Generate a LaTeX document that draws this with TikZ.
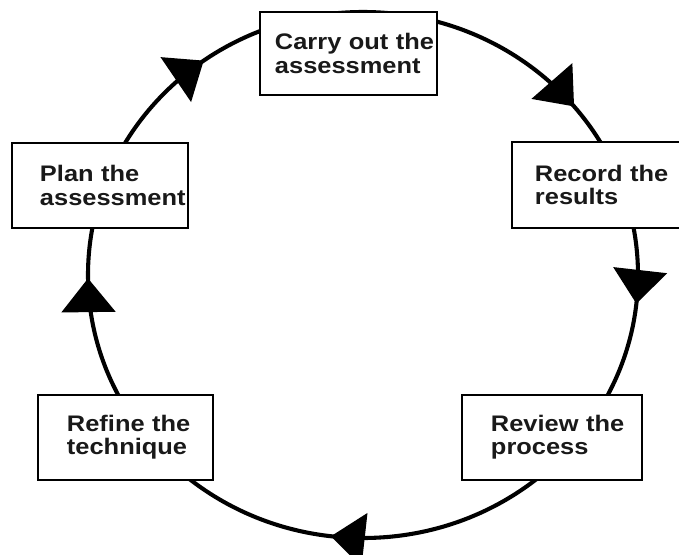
\documentclass[tikz,border=0pt]{standalone}
\usepackage{fontspec}
\newfontfamily\boxfont[FakeStretch=1.13]{Liberation Sans}
\usetikzlibrary{arrows.meta,decorations.markings}
\tikzset{cycletip/.tip={Triangle[length=24pt, width=38pt]}}

\begin{document}
\begin{tikzpicture}[x=0.025cm, y=-0.025cm,
    box/.style={draw, fill=white, line width=1.1pt, align=left, text=black!90,
        font=\boxfont\bfseries\fontsize{16}{16.6}\selectfont}]
                \useasboundingbox (0,0) rectangle (679,554);

                % The cycle
                \draw[line width=2.9pt, postaction={decorate}, decoration={markings,
                    mark=at position 0.017 with {\arrow{cycletip}},
                    mark=at position 0.269 with {\arrow{cycletip}},
                    mark=at position 0.498 with {\arrow{cycletip}},
                    mark=at position 0.650 with {\arrow{cycletip}},
                    mark=at position 0.891 with {\arrow{cycletip}}}]
                    (638,275) arc[start angle=0, end angle=360, x radius=275, y radius=263];

                % Carry out the assessment
                \node (carry) [box, text width=3.675cm, inner xsep=0.375cm, minimum height=2.075cm]
                    at (348.5,53.5) {Carry~out~the\\assessment};

                % Record the results
                \node (record) [box, text width=3.5cm, inner xsep=0.575cm, minimum height=2.15cm]
                    at (605,185) {Record~the\\results};

                % Review the process
                \node (review) [box, text width=3.05cm, inner xsep=0.725cm, minimum height=2.125cm]
                    at (552,437.5) {Review~the\\process};

                % Refine the technique
                \node (refine) [box, text width=2.925cm, inner xsep=0.725cm, minimum height=2.125cm]
                    at (125.5,437.5) {Refine~the\\technique};

                % Plan the assessment
                \node (plan) [box, text width=3.0cm, inner xsep=0.7cm, minimum height=2.125cm]
                    at (100,185.5) {Plan~the\\assessment};
\end{tikzpicture}
\end{document}
